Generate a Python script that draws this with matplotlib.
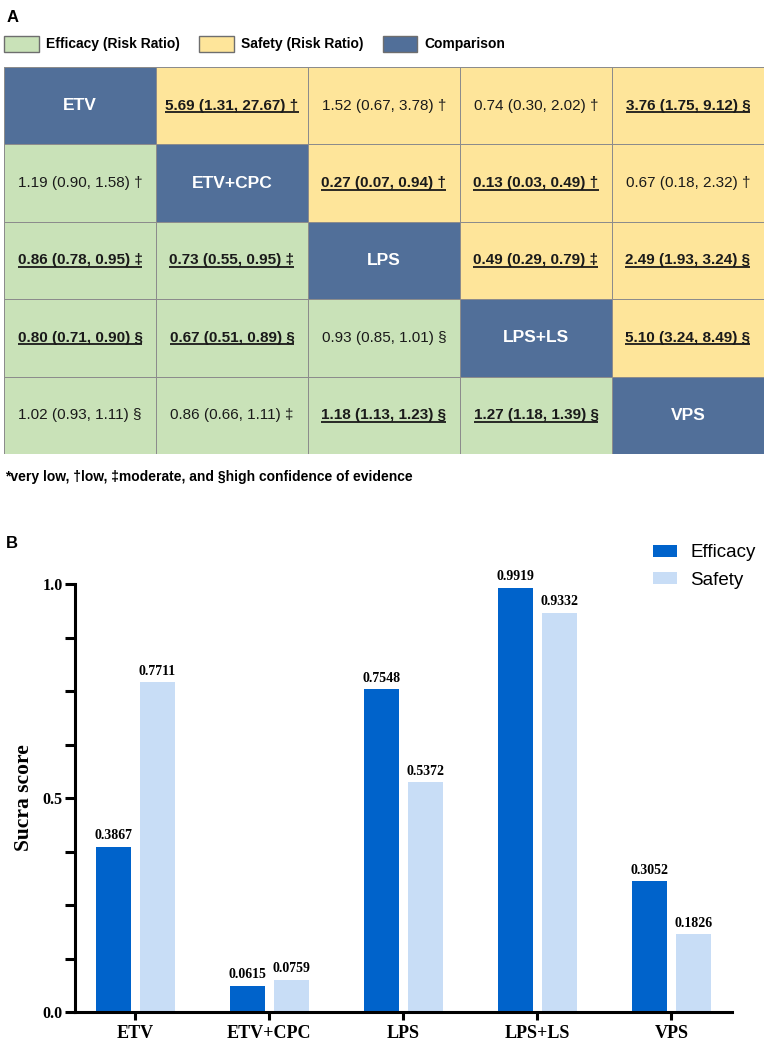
import numpy as np
import matplotlib.pyplot as plt
from matplotlib.colors import ListedColormap
from matplotlib.patches import Patch

# treatments
names = ["ETV", "ETV+CPC", "LPS", "LPS+LS", "VPS"]

# league table: lower triangle = efficacy RR, upper triangle = safety RR
cells = [
    ["ETV", "5.69 (1.31, 27.67) †", "1.52 (0.67, 3.78) †", "0.74 (0.30, 2.02) †", "3.76 (1.75, 9.12) §"],
    ["1.19 (0.90, 1.58) †", "ETV+CPC", "0.27 (0.07, 0.94) †", "0.13 (0.03, 0.49) †", "0.67 (0.18, 2.32) †"],
    ["0.86 (0.78, 0.95) ‡", "0.73 (0.55, 0.95) ‡", "LPS", "0.49 (0.29, 0.79) ‡", "2.49 (1.93, 3.24) §"],
    ["0.80 (0.71, 0.90) §", "0.67 (0.51, 0.89) §", "0.93 (0.85, 1.01) §", "LPS+LS", "5.10 (3.24, 8.49) §"],
    ["1.02 (0.93, 1.11) §", "0.86 (0.66, 1.11) ‡", "1.18 (1.13, 1.23) §", "1.27 (1.18, 1.39) §", "VPS"],
]
# significant cells (bold + underlined)
signif = [
    [0, 1, 0, 0, 1],
    [0, 0, 1, 1, 0],
    [1, 1, 0, 1, 1],
    [1, 1, 0, 0, 1],
    [0, 0, 1, 1, 0],
]

# SUCRA scores
efficacy = [0.3867, 0.0615, 0.7548, 0.9919, 0.3052]
safety = [0.7711, 0.0759, 0.5372, 0.9332, 0.1826]

green = "#c9e2b8"
yellow = "#fee59a"
blue = "#516f99"

fig = plt.figure(figsize=(7.67, 10.40), dpi=100)

# ---------- panel A ----------
fig.text(0.008, 0.990, "A", fontsize=12, fontweight="bold", family="Liberation Sans", va="top")

handles = [Patch(facecolor=green, edgecolor="#6e6e6e", label="Efficacy (Risk Ratio)"),
           Patch(facecolor=yellow, edgecolor="#6e6e6e", label="Safety (Risk Ratio)"),
           Patch(facecolor=blue, edgecolor="#6e6e6e", label="Comparison")]
fig.legend(handles=handles, loc="center left", bbox_to_anchor=(-0.011, 0.958), ncol=3,
           frameon=False, handlelength=2.5, handleheight=1.4, handletextpad=0.5,
           columnspacing=1.4, prop={"family": "Liberation Sans", "weight": "bold", "size": 10})

n = len(names)
kind = np.array([[2 if i == j else (0 if j < i else 1) for j in range(n)] for i in range(n)])
ax = fig.add_axes([0.0052, 0.5635, 0.9908, 0.3721])
ax.pcolormesh(np.arange(n + 1), np.arange(n + 1), kind, cmap=ListedColormap([green, yellow, blue]),
              vmin=-0.5, vmax=2.5, edgecolors="#8c8c8c", linewidth=0.6)
ax.set_xlim(0, n)
ax.set_ylim(n, 0)
ax.axis("off")

under = []
for i in range(n):
    for j in range(n):
        if i == j:
            ax.text(j + 0.5, i + 0.5, cells[i][j], ha="center", va="center", color="white",
                    fontsize=12.5, fontweight="bold", family="Liberation Sans")
        else:
            b = signif[i][j]
            t = ax.text(j + 0.5, i + 0.5, cells[i][j], ha="center", va="center", color="#1a1a1a",
                        fontsize=11, fontweight="bold" if b else "normal", family="Liberation Sans")
            if b:
                under.append(t)

# underline the significant estimates (y axis is inverted: larger = lower)
fig.canvas.draw()
r = fig.canvas.get_renderer()
inv = ax.transData.inverted()
for t in under:
    bb = t.get_window_extent(r)
    (x0, y0), (x1, y1) = inv.transform([(bb.x0, bb.y0), (bb.x1, bb.y1)])
    ax.plot([x0, x1], [y0 - 0.005, y0 - 0.005], color="#1a1a1a", lw=1.3, solid_capstyle="butt")

fig.text(0.006, 0.541, "*very low, †low, ‡moderate, and §high confidence of evidence",
         fontsize=10, fontweight="bold", family="Liberation Sans", va="center")

# ---------- panel B ----------
fig.text(0.008, 0.485, "B", fontsize=12, fontweight="bold", family="Liberation Sans", va="top")

bx = fig.add_axes([0.0978, 0.0269, 0.8562, 0.4115])
x = np.arange(n)
w = 0.26
b1 = bx.bar(x - 0.165, efficacy, w, color="#0063cb", label="Efficacy")
b2 = bx.bar(x + 0.165, safety, w, color="#c8ddf6", label="Safety")
for bars, vals in [(b1, efficacy), (b2, safety)]:
    for rect, v in zip(bars, vals):
        bx.text(rect.get_x() + rect.get_width() / 2, v + 0.01, f"{v:.4f}", ha="center", va="bottom",
                fontsize=10, fontweight="bold", family="Liberation Serif")

bx.set_xlim(-0.45, 4.45)
bx.set_ylim(0, 1.0)
bx.set_yticks([0, 0.5, 1.0])
bx.set_yticklabels(["0.0", "0.5", "1.0"])
bx.set_yticks(np.arange(0, 1.01, 0.125), minor=True)
bx.set_xticks(x)
bx.set_xticklabels(names)
for s in ["top", "right"]:
    bx.spines[s].set_visible(False)
for s in ["left", "bottom"]:
    bx.spines[s].set_linewidth(2.2)
bx.tick_params(axis="both", which="both", width=2.2, direction="out")
bx.tick_params(axis="y", which="both", length=7, pad=2)
bx.tick_params(axis="x", length=6, pad=3)
for lab in bx.get_xticklabels():
    lab.set_fontsize(13)
    lab.set_fontweight("bold")
    lab.set_family("Liberation Serif")
for lab in bx.get_yticklabels():
    lab.set_fontsize(11.5)
    lab.set_fontweight("bold")
    lab.set_family("Liberation Serif")
bx.set_ylabel("Sucra score", fontsize=15.5, fontweight="bold", family="Liberation Serif", labelpad=6)
bx.legend(loc="upper left", bbox_to_anchor=(0.88, 1.093), frameon=False, borderpad=0,
          borderaxespad=0, handlelength=1.3, handleheight=0.6, handletextpad=0.7,
          labelspacing=0.55, prop={"family": "Liberation Sans", "size": 13.5})

fig.savefig("out.png", dpi=100)
